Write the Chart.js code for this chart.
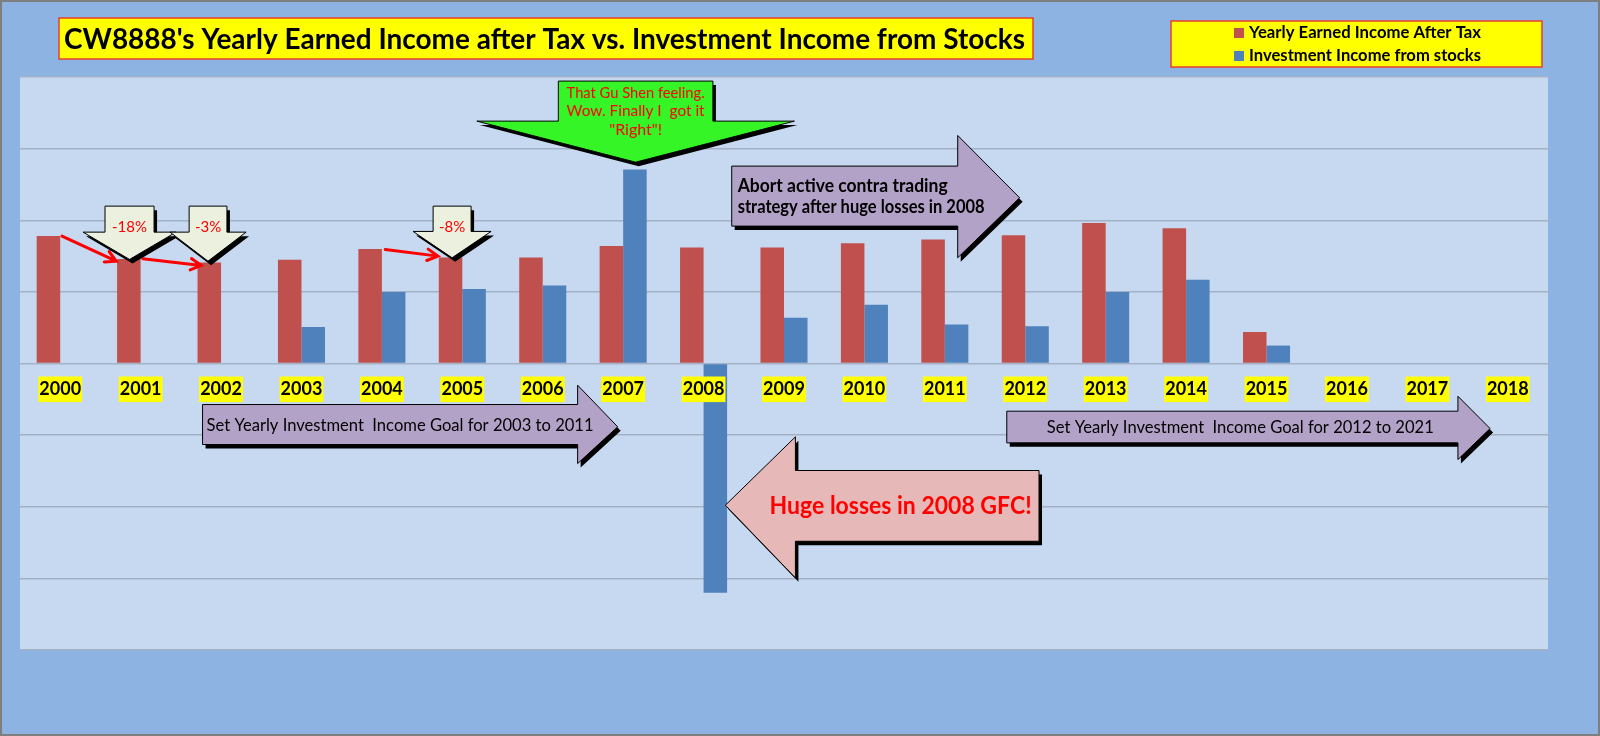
<!DOCTYPE html>
<html lang="en">
<head>
<meta charset="UTF-8">
<title>CW8888 Yearly Earned Income vs Investment Income</title>
<script src="https://cdn.jsdelivr.net/npm/chart.js"></script>
<style>
  html, body { margin: 0; padding: 0; background: #8DB3E2; }
  canvas { display: block; }
</style>
</head>
<body>
<canvas id="incomeChart" width="1600" height="736"></canvas>
<script>
// values (arbitrary units, one gridline = 1)
const years = ['2000', '2001', '2002', '2003', '2004', '2005', '2006', '2007', '2008', '2009',
               '2010', '2011', '2012', '2013', '2014', '2015', '2016', '2017', '2018'];
const earnedIncome = [1.78, 1.46, 1.41, 1.45, 1.60, 1.48, 1.48, 1.64, 1.62, 1.62,
                      1.68, 1.73, 1.79, 1.96, 1.89, 0.44, null, null, null];
const stockIncome = [null, null, null, 0.51, 1.00, 1.04, 1.09, 2.71, -3.20, 0.64,
                     0.82, 0.545, 0.52, 1.00, 1.17, 0.25, null, null, null];
const seriesNames = ['Yearly Earned Income After Tax', 'Investment Income from stocks'];
const chartTitle = "CW8888's Yearly Earned Income after Tax vs. Investment Income from Stocks";

// annotations, placed in (category index, value) units
const callouts = [
  { text: '-18%', c: 0.862, shaft: 0.305, wing: 0.578, top: 2.197, neck: 1.834, tip: 1.453 },
  { text: '-3%',  c: 1.838, shaft: 0.235, wing: 0.473, top: 2.197, neck: 1.834, tip: 1.429 },
  { text: '-8%',  c: 4.873, shaft: 0.236, wing: 0.485, top: 2.197, neck: 1.844, tip: 1.476 }
];
const pointers = [
  [0.022, 1.778, 0.697, 1.429],
  [1.027, 1.462, 1.754, 1.369],
  [4.042, 1.592, 4.697, 1.499]
];

const FONT = 'Lato, "Open Sans", sans-serif';

function X(chart, c) { return chart.scales.x.getPixelForValue(c); }
function Y(chart, v) { return chart.scales.y.getPixelForValue(v); }

function drawShape(ctx, pts, fill) {
  const path = (dx, dy) => {
    ctx.beginPath();
    pts.forEach(([x, y], i) => i ? ctx.lineTo(x + dx, y + dy) : ctx.moveTo(x + dx, y + dy));
    ctx.closePath();
  };
  ctx.save();
  path(3, 4);
  ctx.fillStyle = '#000';
  ctx.fill();
  path(0, 0);
  ctx.fillStyle = fill;
  ctx.fill();
  ctx.strokeStyle = '#000';
  ctx.lineWidth = 1;
  ctx.stroke();
  ctx.restore();
}

function rightArrow(chart, a, fill) {
  const p = [
    [X(chart, a.x0), Y(chart, a.bodyTop)],
    [X(chart, a.base), Y(chart, a.bodyTop)],
    [X(chart, a.base), Y(chart, a.headTop)],
    [X(chart, a.tip), Y(chart, a.tipV)],
    [X(chart, a.base), Y(chart, a.headBot)],
    [X(chart, a.base), Y(chart, a.bodyBot)],
    [X(chart, a.x0), Y(chart, a.bodyBot)]
  ];
  drawShape(chart.ctx, p, fill);
}

function text(ctx, str, x, y, font, color, align, maxW) {
  ctx.save();
  ctx.font = font;
  ctx.fillStyle = color;
  ctx.textAlign = align;
  ctx.textBaseline = 'middle';
  ctx.fillText(str, x, y, maxW);
  ctx.restore();
}

const decorPlugin = {
  id: 'decor',
  beforeDraw(chart) {
    const { ctx, chartArea: a, width, height } = chart;
    ctx.save();
    ctx.fillStyle = '#8DB3E2';
    ctx.fillRect(0, 0, width, height);
    ctx.fillStyle = '#C6D9F0';
    ctx.fillRect(a.left, a.top, a.right - a.left, a.bottom - a.top);
    ctx.strokeStyle = '#7F7F7F';
    ctx.lineWidth = 2;
    ctx.strokeRect(1, 1, width - 2, height - 2);
    ctx.restore();
  },
  afterDraw(chart) {
    const ctx = chart.ctx;

    // title box
    ctx.save();
    ctx.fillStyle = '#FFFF00';
    ctx.fillRect(59, 18, 974, 41);
    ctx.strokeStyle = '#E8412C';
    ctx.lineWidth = 1.5;
    ctx.strokeRect(59, 18, 974, 41);
    ctx.restore();
    text(ctx, chartTitle, 64, 40, 'bold 29px ' + FONT, '#000', 'left', 961);

    // legend box
    ctx.save();
    ctx.fillStyle = '#FFFF00';
    ctx.fillRect(1171, 21, 371, 46);
    ctx.strokeStyle = '#E8412C';
    ctx.lineWidth = 1.5;
    ctx.strokeRect(1171, 21, 371, 46);
    chart.data.datasets.forEach((ds, i) => {
      const y = 33 + i * 23;
      ctx.fillStyle = ds.backgroundColor;
      ctx.fillRect(1234, y - 5, 10, 10);
      text(ctx, ds.label, 1249, y, 'bold 17px ' + FONT, '#000', 'left', 232);
    });
    ctx.restore();

    // red pointer arrows
    pointers.forEach(([c0, v0, c1, v1]) => {
      const x0 = X(chart, c0), y0 = Y(chart, v0), x1 = X(chart, c1), y1 = Y(chart, v1);
      const ang = Math.atan2(y1 - y0, x1 - x0);
      ctx.save();
      ctx.strokeStyle = '#FF0000';
      ctx.lineWidth = 3;
      ctx.lineCap = 'round';
      ctx.beginPath();
      ctx.moveTo(x0, y0);
      ctx.lineTo(x1, y1);
      ctx.moveTo(x1 - 12 * Math.cos(ang - 0.5), y1 - 12 * Math.sin(ang - 0.5));
      ctx.lineTo(x1, y1);
      ctx.lineTo(x1 - 12 * Math.cos(ang + 0.5), y1 - 12 * Math.sin(ang + 0.5));
      ctx.stroke();
      ctx.restore();
    });

    // down callouts with percentage drops
    callouts.forEach(k => {
      const p = [
        [X(chart, k.c - k.shaft), Y(chart, k.top)],
        [X(chart, k.c + k.shaft), Y(chart, k.top)],
        [X(chart, k.c + k.shaft), Y(chart, k.neck)],
        [X(chart, k.c + k.wing), Y(chart, k.neck)],
        [X(chart, k.c), Y(chart, k.tip)],
        [X(chart, k.c - k.wing), Y(chart, k.neck)],
        [X(chart, k.c - k.shaft), Y(chart, k.neck)]
      ];
      drawShape(ctx, p, '#EBF1DE');
      text(ctx, k.text, X(chart, k.c), Y(chart, 1.91), '15px ' + FONT, '#FF0000', 'center');
    });

    // green arrow over 2007
    const g = { c: 7.155, shaft: 0.961, wing: 1.974, top: 3.943, neck: 3.384, tip: 2.811 };
    drawShape(ctx, [
      [X(chart, g.c - g.shaft), Y(chart, g.top)],
      [X(chart, g.c + g.shaft), Y(chart, g.top)],
      [X(chart, g.c + g.shaft), Y(chart, g.neck)],
      [X(chart, g.c + g.wing), Y(chart, g.neck)],
      [X(chart, g.c), Y(chart, g.tip)],
      [X(chart, g.c - g.wing), Y(chart, g.neck)],
      [X(chart, g.c - g.shaft), Y(chart, g.neck)]
    ], '#36F526');
    ['That Gu Shen feeling.', 'Wow. Finally I  got it', '"Right"!'].forEach((s, i) => {
      text(ctx, s, X(chart, g.c), Y(chart, 3.78 - i * 0.258), '16px ' + FONT, '#FF0000', 'center', 138);
    });

    // purple arrows
    rightArrow(chart, { x0: 8.35, base: 11.16, tip: 11.93, bodyTop: 2.756, bodyBot: 1.918,
                        headTop: 3.184, headBot: 1.476, tipV: 2.314 }, '#B3A2C7');
    text(ctx, 'Abort active contra trading', X(chart, 8.424), Y(chart, 2.476), 'bold 18px ' + FONT, '#000', 'left', 210);
    text(ctx, 'strategy after huge losses in 2008', X(chart, 8.424), Y(chart, 2.188), 'bold 18px ' + FONT, '#000', 'left', 247);

    rightArrow(chart, { x0: 1.77, base: 6.434, tip: 6.932, bodyTop: -0.573, bodyBot: -1.131,
                        headTop: -0.303, headBot: -1.397, tipV: -0.884 }, '#B3A2C7');
    text(ctx, 'Set Yearly Investment  Income Goal for 2003 to 2011', X(chart, 1.82), Y(chart, -0.862),
         '17px ' + FONT, '#000', 'left', 387);

    rightArrow(chart, { x0: 11.77, base: 17.38, tip: 17.78, bodyTop: -0.666, bodyBot: -1.108,
                        headTop: -0.457, headBot: -1.341, tipV: -0.908 }, '#B3A2C7');
    text(ctx, 'Set Yearly Investment  Income Goal for 2012 to 2021', X(chart, 14.674), Y(chart, -0.894),
         '17px ' + FONT, '#000', 'center', 387);

    // pink arrow pointing at the 2008 loss
    const h = { tip: 8.271, tipV: -1.979, base: 9.142, right: 12.171, bodyTop: -1.494, bodyBot: -2.482,
                headTop: -1.024, headBot: -2.993 };
    drawShape(ctx, [
      [X(chart, h.tip), Y(chart, h.tipV)],
      [X(chart, h.base), Y(chart, h.headTop)],
      [X(chart, h.base), Y(chart, h.bodyTop)],
      [X(chart, h.right), Y(chart, h.bodyTop)],
      [X(chart, h.right), Y(chart, h.bodyBot)],
      [X(chart, h.base), Y(chart, h.bodyBot)],
      [X(chart, h.base), Y(chart, h.headBot)]
    ], '#E6B9B8');
    text(ctx, 'Huge losses in 2008 GFC!', X(chart, 10.45), Y(chart, -1.993), 'bold 24px ' + FONT, '#FF0000', 'center', 262);
  }
};

const ctx = document.getElementById('incomeChart').getContext('2d');
new Chart(ctx, {
  type: 'bar',
  data: {
    labels: years,
    datasets: [
      { label: seriesNames[0], data: earnedIncome, backgroundColor: '#C0504D' },
      { label: seriesNames[1], data: stockIncome, backgroundColor: '#4F81BD' }
    ]
  },
  options: {
    responsive: false,
    animation: false,
    categoryPercentage: 0.585,
    barPercentage: 1,
    layout: { padding: { left: 20, right: 52, top: 77, bottom: 86 } },
    plugins: {
      legend: { display: false },
      title: { display: false },
      tooltip: { enabled: false }
    },
    scales: {
      x: {
        position: { y: 0 },
        grid: { display: false, drawTicks: false },
        border: { display: false },
        ticks: {
          z: 1,
          padding: 15,
          color: '#000',
          autoSkip: false,
          maxRotation: 0,
          font: { family: FONT, size: 18, weight: 'bold' },
          showLabelBackdrop: true,
          backdropColor: '#FFFF00',
          backdropPadding: { top: 2, bottom: 2, left: 1, right: 1 }
        }
      },
      y: {
        min: -4,
        max: 4,
        ticks: { display: false, stepSize: 1 },
        grid: { color: '#A3B1C6', lineWidth: 1.5, drawTicks: false },
        border: { display: false }
      }
    }
  },
  plugins: [decorPlugin]
});
</script>
</body>
</html>
